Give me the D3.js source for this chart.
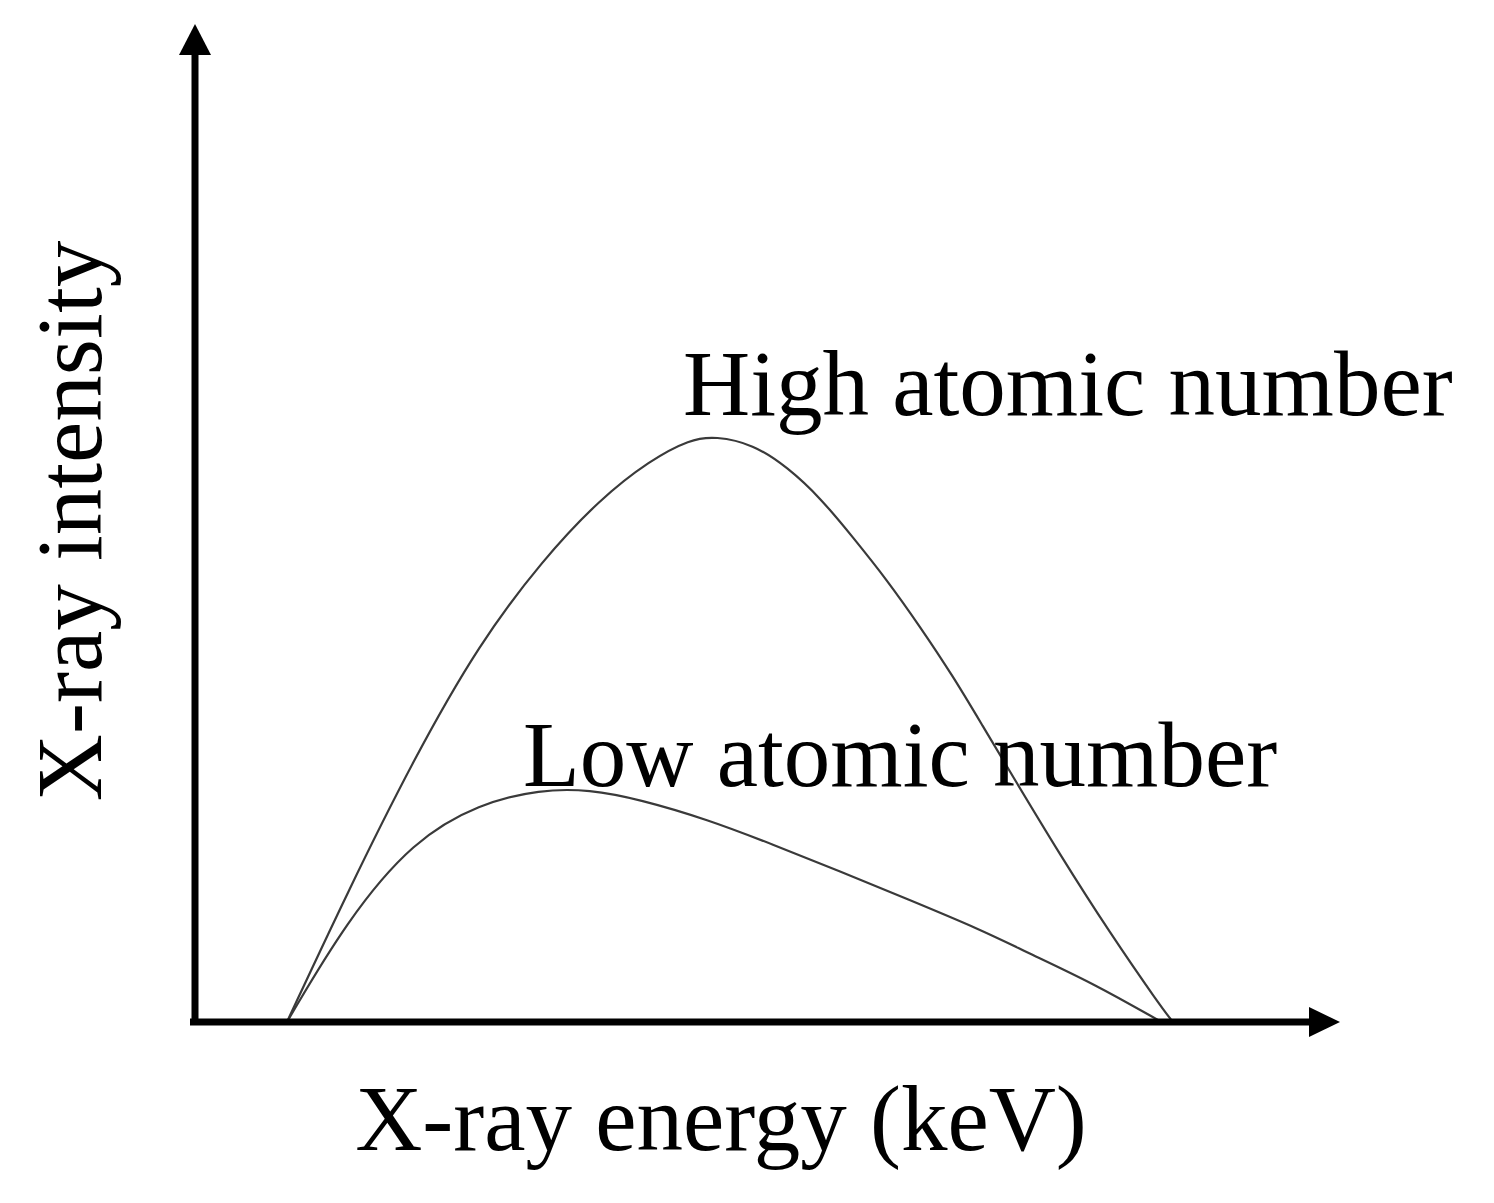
<!DOCTYPE html>
<html>
<head>
    <meta charset="utf-8">
    <title>X-ray spectrum</title>
    <style>
        body { margin: 0; background: white; }
        svg { display: block; background-color: white; }
        text { font-family: "Liberation Serif", "Times New Roman", serif; fill: black; }
    </style>
</head>
<body>
    <script src="https://cdnjs.cloudflare.com/ajax/libs/d3/7.8.5/d3.min.js"></script>
    <script>

// energy in arbitrary units (0-100), intensity in arbitrary units (0-100)
var highEnergy = [7.95, 13.2, 19.0, 24.8, 30.3, 35.3, 39.7, 43.2, 45.4, 48.7, 51.7, 54.6, 57.4, 60.4, 63.3, 66.2, 68.8, 71.2, 75.5, 79.9, 84.3, 85.4];
var highIntensity = [0, 12.9, 26.3, 38.0, 46.3, 52.4, 56.3, 58.4, 58.7, 57.9, 55.6, 52.5, 48.6, 44.3, 39.6, 34.6, 29.6, 25.0, 16.8, 8.9, 1.6, 0];

var lowEnergy = [7.95, 13.2, 19.0, 24.8, 30.1, 34.4, 38.8, 44.7, 50.4, 56.3, 62.2, 68.5, 72.6, 78.4, 84.4];
var lowIntensity = [0, 10.2, 18.2, 21.9, 23.3, 23.3, 22.3, 20.3, 17.8, 15.1, 12.3, 9.3, 7.0, 3.9, 0];

var seriesNames = ["High atomic number", "Low atomic number"];
var xTitle = "X-ray energy (keV)";
var yTitle = "X-ray intensity";

var config = {
    width: 1494,
    height: 1203,
    x0: 196, x1: 1340,
    y0: 1022, y1: 24,
    fontSize: 93
};

var svg = d3.select("body").append("svg")
    .attr("width", config.width)
    .attr("height", config.height);

var scale_x = d3.scaleLinear().domain([0, 100]).range([config.x0, config.x1]);
var scale_y = d3.scaleLinear().domain([0, 100]).range([config.y0, config.y1]);

function zip(xs, ys) {
    return xs.map(function (x, i) { return { e: x, v: ys[i] }; });
}

var series = [
    { name: seriesNames[0], points: zip(highEnergy, highIntensity), labelX: 683, labelY: 415 },
    { name: seriesNames[1], points: zip(lowEnergy, lowIntensity), labelX: 523, labelY: 786 }
];

var line = d3.line()
    .x(function (d) { return scale_x(d.e); })
    .y(function (d) { return scale_y(d.v); })
    .curve(d3.curveBasis);

// curves
svg.selectAll("path.curve").data(series).enter().append("path")
    .attr("class", "curve")
    .attr("d", function (d) { return line(d.points); })
    .attr("fill", "none")
    .attr("stroke", "#3a3a3a")
    .attr("stroke-width", 2.2);

// axes with arrow heads
var ax = scale_x(0) - 1, ay = scale_y(0);
svg.append("line")
    .attr("x1", ax).attr("y1", ay + 3)
    .attr("x2", ax).attr("y2", scale_y(100) + 28)
    .attr("stroke", "black").attr("stroke-width", 7);
svg.append("line")
    .attr("x1", ax - 5).attr("y1", ay)
    .attr("x2", scale_x(100) - 28).attr("y2", ay)
    .attr("stroke", "black").attr("stroke-width", 7);

svg.append("path")
    .attr("d", d3.line()([[ax, scale_y(100)], [ax - 16, scale_y(100) + 31], [ax + 16, scale_y(100) + 31]]) + "Z")
    .attr("fill", "black");
svg.append("path")
    .attr("d", d3.line()([[scale_x(100), ay], [scale_x(100) - 31, ay - 15], [scale_x(100) - 31, ay + 15]]) + "Z")
    .attr("fill", "black");

// series labels
svg.selectAll("text.label").data(series).enter().append("text")
    .attr("class", "label")
    .attr("x", function (d) { return d.labelX; })
    .attr("y", function (d) { return d.labelY; })
    .attr("font-size", config.fontSize)
    .text(function (d) { return d.name; });

// axis titles
svg.append("text")
    .attr("x", 721).attr("y", 1150)
    .attr("text-anchor", "middle")
    .attr("font-size", config.fontSize)
    .text(xTitle);

svg.append("text")
    .attr("transform", "translate(101,521) rotate(-90)")
    .attr("text-anchor", "middle")
    .attr("font-size", config.fontSize)
    .text(yTitle);

    </script>
</body>
</html>
